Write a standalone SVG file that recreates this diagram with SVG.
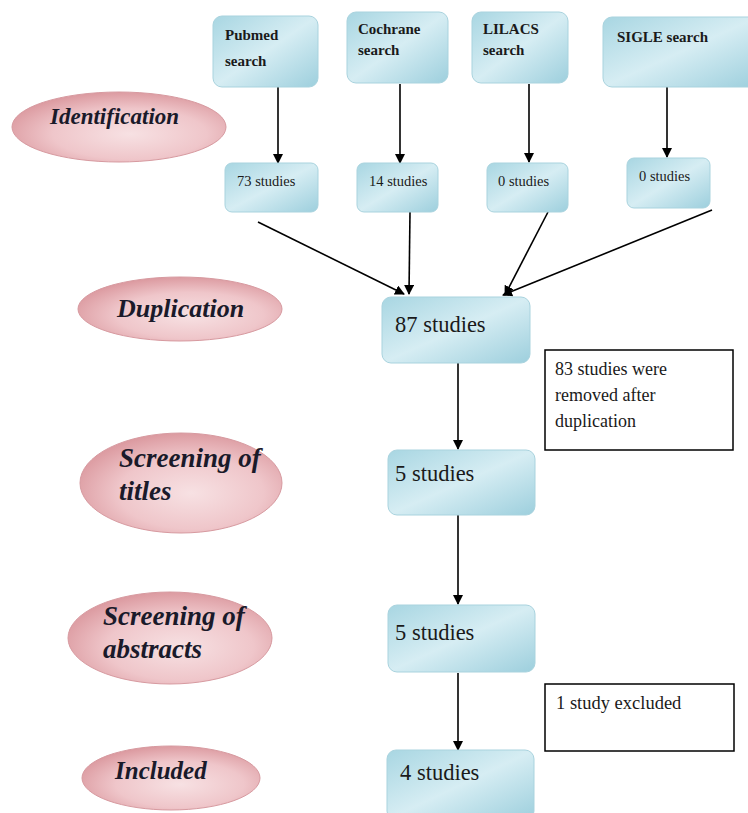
<svg xmlns="http://www.w3.org/2000/svg" width="748" height="813" viewBox="0 0 748 813">
<style>
.box{fill:url(#gb);stroke:#a9d3de;stroke-width:1}
.ell{fill:url(#gp);stroke:#d79aa0;stroke-width:1}
.t{font-family:"Liberation Serif",serif;fill:#1a1a1a}
.tb{font-family:"Liberation Serif",serif;font-weight:bold;fill:#1a1a1a;font-size:15px}
.ts{font-family:"Liberation Serif",serif;fill:#1a1a1a;font-size:14.5px}
.ti{font-family:"Liberation Serif",serif;font-weight:bold;font-style:italic;fill:#1a1a2a}
.ln{stroke:#000;stroke-width:1.6;fill:none;marker-end:url(#ah)}
.note{fill:#fff;stroke:#000;stroke-width:1.5}
</style>
<defs>
<linearGradient id="gb" x1="0" y1="0" x2="1" y2="1">
<stop offset="0" stop-color="#a8d6e2"/>
<stop offset="0.5" stop-color="#d6edf3"/>
<stop offset="1" stop-color="#9dcfdd"/>
</linearGradient>
<radialGradient id="gp" cx="0.55" cy="0.6" r="0.6">
<stop offset="0" stop-color="#f7e1e3"/>
<stop offset="0.6" stop-color="#efc6ca"/>
<stop offset="1" stop-color="#dc9ba1"/>
</radialGradient>
<marker id="ah" viewBox="0 0 10 10" refX="9" refY="5" markerWidth="10" markerHeight="10" orient="auto" markerUnits="userSpaceOnUse">
<path d="M0,0 L10,5 L0,10 z" fill="#000"/>
</marker>
</defs>

<g id="connectors">
<line class="ln" x1="278" y1="87" x2="278" y2="163"/>
<line class="ln" x1="400" y1="84" x2="400" y2="163"/>
<line class="ln" x1="529" y1="84" x2="529" y2="162"/>
<line class="ln" x1="667" y1="82" x2="667" y2="157"/>
<line class="ln" x1="258" y1="222" x2="404" y2="294"/>
<line class="ln" x1="410" y1="212" x2="409" y2="294"/>
<line class="ln" x1="548" y1="212" x2="505" y2="295"/>
<line class="ln" x1="712" y1="210" x2="503" y2="295"/>
<line class="ln" x1="458" y1="363" x2="458" y2="449"/>
<line class="ln" x1="458" y1="515" x2="458" y2="604"/>
<line class="ln" x1="458" y1="673" x2="458" y2="750"/>
</g>

<g id="pubmed"><rect class="box" x="213" y="16" width="105" height="71" rx="9"/><text class="tb" x="225" y="40">Pubmed</text><text class="tb" x="225" y="66">search</text></g>
<g id="cochrane"><rect class="box" x="347" y="12" width="101" height="71" rx="9"/><text class="tb" x="358" y="34">Cochrane</text><text class="tb" x="358" y="55">search</text></g>
<g id="lilacs"><rect class="box" x="472" y="12" width="96" height="71" rx="9"/><text class="tb" x="483" y="34">LILACS</text><text class="tb" x="483" y="55">search</text></g>
<g id="sigle"><rect class="box" x="603" y="17" width="155" height="70" rx="9"/><text class="tb" x="617" y="42">SIGLE search</text></g>

<g id="n73"><rect class="box" x="225" y="163" width="93" height="49" rx="7"/><text class="ts" x="237" y="186">73 studies</text></g>
<g id="n14"><rect class="box" x="357" y="163" width="81" height="49" rx="7"/><text class="ts" x="369" y="186">14 studies</text></g>
<g id="n0a"><rect class="box" x="487" y="163" width="81" height="49" rx="7"/><text class="ts" x="498" y="186">0 studies</text></g>
<g id="n0b"><rect class="box" x="627" y="158" width="83" height="50" rx="7"/><text class="ts" x="639" y="181">0 studies</text></g>

<g id="n87"><rect class="box" x="382" y="297" width="148" height="66" rx="9"/><text class="t" x="395" y="332" font-size="22.5">87 studies</text></g>
<g id="note83"><rect class="note" x="545" y="350" width="188" height="100"/><text class="t" x="555" y="375" font-size="18">83 studies were</text><text class="t" x="555" y="401" font-size="18">removed after</text><text class="t" x="555" y="427" font-size="18">duplication</text></g>
<g id="n5a"><rect class="box" x="388" y="450" width="147" height="65" rx="9"/><text class="t" x="395" y="481" font-size="22.5">5 studies</text></g>
<g id="n5b"><rect class="box" x="388" y="605" width="147" height="67" rx="9"/><text class="t" x="395" y="640" font-size="22.5">5 studies</text></g>
<g id="note1"><rect class="note" x="545" y="684" width="189" height="67"/><text class="t" x="556" y="709" font-size="18.5">1 study excluded</text></g>
<g id="n4"><rect class="box" x="387" y="750" width="147" height="70" rx="9"/><text class="t" x="400" y="780" font-size="22.5">4 studies</text></g>

<g id="identification"><ellipse class="ell" cx="119" cy="127" rx="107" ry="35"/><text class="ti" x="50" y="124" font-size="23">Identification</text></g>
<g id="duplication"><ellipse class="ell" cx="180" cy="309" rx="102" ry="32"/><text class="ti" x="117" y="317" font-size="26">Duplication</text></g>
<g id="screening-titles"><ellipse class="ell" cx="181" cy="483" rx="101" ry="50"/><text class="ti" x="119" y="467" font-size="27">Screening of</text><text class="ti" x="119" y="500" font-size="27">titles</text></g>
<g id="screening-abstracts"><ellipse class="ell" cx="170" cy="638" rx="102" ry="46"/><text class="ti" x="103" y="625" font-size="27">Screening of</text><text class="ti" x="103" y="658" font-size="27">abstracts</text></g>
<g id="included"><ellipse class="ell" cx="171" cy="778" rx="89" ry="32"/><text class="ti" x="115" y="779" font-size="25">Included</text></g>
</svg>
